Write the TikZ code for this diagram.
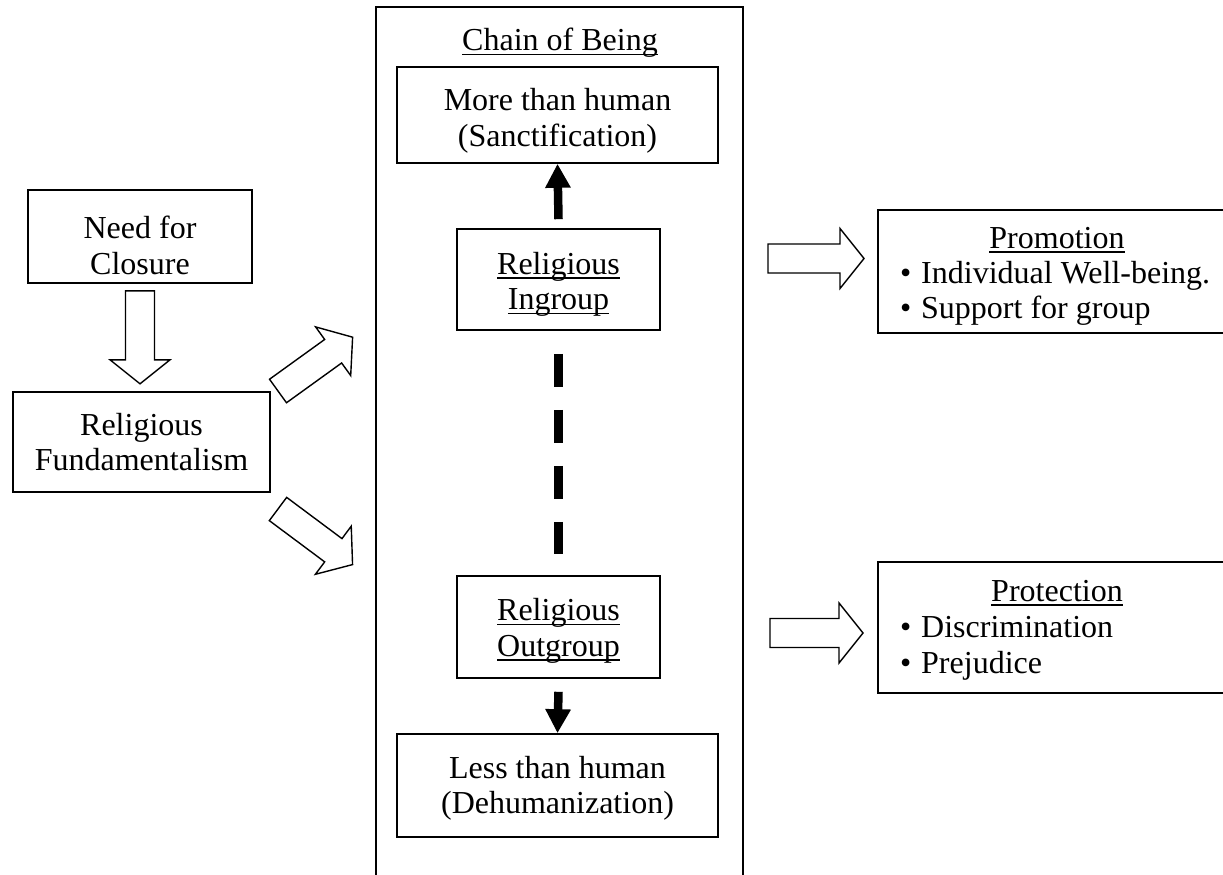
\documentclass[tikz,border=0pt]{standalone}
\usepackage{fontspec}
\setmainfont{Liberation Serif}
\usetikzlibrary{arrows.meta}
\newcommand{\myul}[1]{\setbox0\hbox{#1}\rlap{\rule[-4.5pt]{\wd0}{1.6pt}}\box0}
\newcommand{\bul}{\makebox[21pt][l]{•}}
\tikzset{
 txt/.style={font=\fontsize{32pt}{35.5pt}\selectfont, align=center, inner sep=0pt},
 box/.style={draw, line width=1.6pt, inner sep=0pt},
 thickarrow/.style={line width=8.5pt, -{Triangle[width=24pt,length=24pt]}},
 blk/.style={draw, line width=1.4pt, fill=white, line join=miter},
 pics/blockarrow/.style={code={\draw[blk] (0,-14.5) -- (#1-24,-14.5) -- (#1-24,-30) -- (#1,0) -- (#1-24,30) -- (#1-24,14.5) -- (0,14.5) -- cycle;}}
}
\begin{document}
\begin{tikzpicture}[x=1pt,y=-1pt]
\useasboundingbox (0,0) rectangle (1223,875);
% Chain of Being container
\draw[line width=1.6pt] (376,880) -- (376,7) -- (743,7) -- (743,880);
\node[txt] (chain) at (560,43) {\myul{Chain of Being}};
% left boxes
\node[box, minimum width=224pt, minimum height=93pt] (nfc) at (140,236.5) {};
\node[txt] (nfct) at ([yshift=-9pt]nfc.center) {Need for\\Closure};
\node[box, minimum width=257pt, minimum height=100pt] (rf) at (141.5,442) {};
\node[txt] (rft) at (rf.center) {Religious\\Fundamentalism};
% chain boxes
\node[box, minimum width=321pt, minimum height=96pt] (more) at (557.5,115) {};
\node[txt] (moret) at ([yshift=-6pt]more.center) {More than human\\(Sanctification)};
\node[box, minimum width=203pt, minimum height=101pt] (in) at (558.5,279.5) {};
\node[txt] (int) at ([yshift=-5pt]in.center) {\myul{Religious}\\\myul{Ingroup}};
\node[box, minimum width=203pt, minimum height=102pt] (out) at (558.5,627) {};
\node[txt] (outt) at ([yshift=-4pt]out.center) {\myul{Religious}\\\myul{Outgroup}};
\node[box, minimum width=321pt, minimum height=103pt] (less) at (557.5,785.5) {};
\node[txt] (lesst) at ([yshift=-3pt]less.center) {Less than human\\(Dehumanization)};
% right boxes
\node[box, minimum width=354pt, minimum height=123pt] (prom) at (1055,271.5) {};
\node[txt] (promt) at (1057,240) {\myul{Promotion}};
\node[txt, anchor=west, align=left] (proml) at (900,293.5) {\bul Individual Well-being.\\\bul Support for group};
\node[box, minimum width=354pt, minimum height=131pt] (prot) at (1055,627.5) {};
\node[txt] (prott) at (1057,593) {\myul{Protection}};
\node[txt, anchor=west, align=left] (protl) at (900,648.5) {\bul Discrimination\\\bul Prejudice};
% chain connectors
\draw[thickarrow] ([yshift=9pt]in.north) -- (more.south);
\draw[line width=8.5pt, dash pattern=on 33pt off 23pt] ([yshift=-23pt]in.south) -- ([yshift=21pt]out.north);
\draw[thickarrow] ([yshift=-13pt]out.south) -- (less.north);
% block arrows
\pic[rotate=-90] at ([yshift=-7pt]nfc.south) {blockarrow=93};
\pic[rotate=35.8] at (278,391) {blockarrow=92};
\pic[rotate=-36.7] at (278,509) {blockarrow=93};
\pic at (768,258.5) {blockarrow=96};
\pic at (770,633) {blockarrow=93};
\end{tikzpicture}
\end{document}
